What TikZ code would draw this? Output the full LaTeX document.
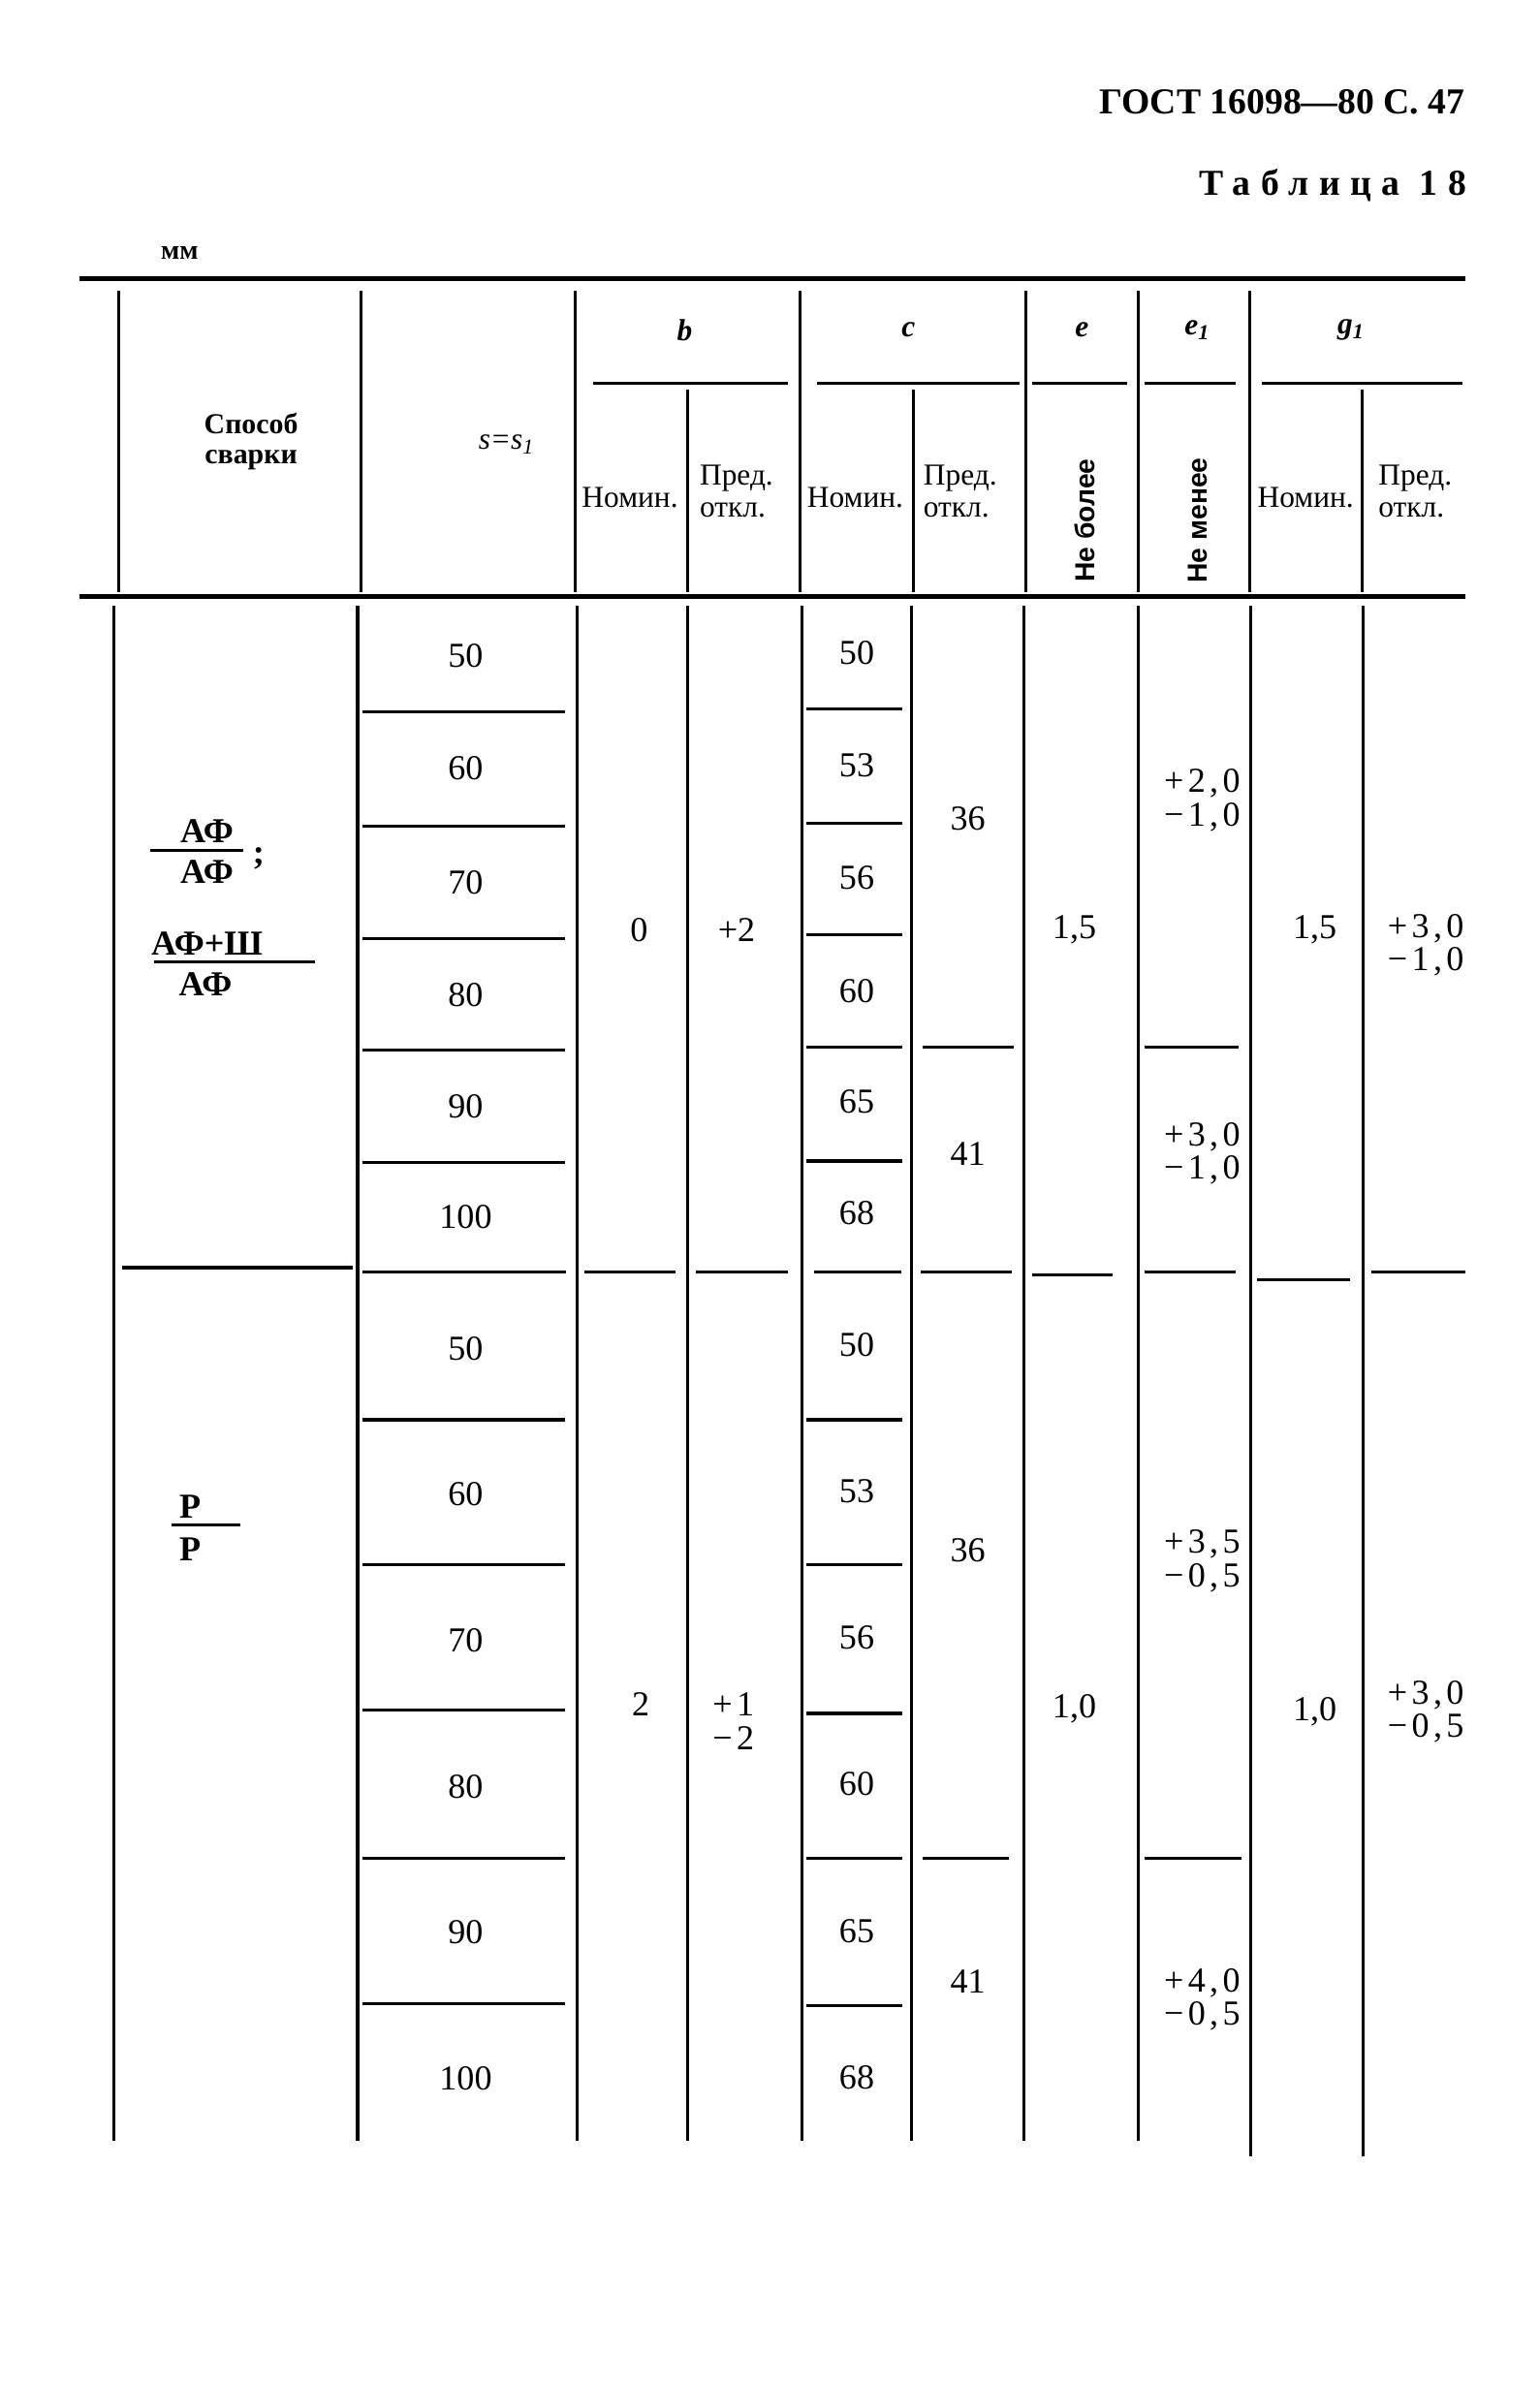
\documentclass[tikz,border=0pt]{standalone}
\usepackage{fontspec}
\setmainfont{Liberation Serif}
\setsansfont{Liberation Sans}
\usetikzlibrary{positioning}

\begin{document}
\begin{tikzpicture}[x=0.5pt, y=-0.5pt]
		% Styles
		\tikzstyle{rule} = [line width=1.6pt]
		\tikzstyle{vline} = [line width=1pt]
		\tikzstyle{sep} = [line width=1pt]
		\tikzstyle{head} = [inner sep=0pt, font=\bfseries\fontsize{12}{14}\selectfont]
		\tikzstyle{small} = [inner sep=0pt, align=left, font=\fontsize{10}{10.5}\selectfont]
		\tikzstyle{var} = [inner sep=0pt, font=\bfseries\itshape\fontsize{10}{12}\selectfont]
		\tikzstyle{num} = [inner sep=0pt, font=\fontsize{11.5}{12}\selectfont]
		\tikzstyle{dev} = [inner sep=0pt, align=right, font=\fontsize{11.5}{11}\selectfont\addfontfeature{LetterSpace=12}]
		\tikzstyle{frac} = [inner sep=0pt, font=\bfseries\fontsize{11.5}{12}\selectfont]
		\tikzstyle{side} = [inner sep=0pt, rotate=90, font=\sffamily\bfseries\fontsize{9}{10}\selectfont]

		\useasboundingbox[fill=white] (0,0) rectangle (1012,1568);

		% Title
		\node [head, anchor=east] (gost) at (963,67) {ГОСТ 16098—80 С. 47};
		\node [head, anchor=east, font=\bfseries\fontsize{12}{14}\selectfont\addfontfeature{LetterSpace=28}] (tabl) at (964,122) {Таблица 18};
		\node [small, font=\bfseries\fontsize{9}{10}\selectfont] (unit) at (118,166) {мм};

		% Header rules
		\draw [rule] (52,183) -- (963,183);
		\draw [rule] (52,392) -- (963,392);
		\foreach \xa/\xb in {390/518, 537/670, 678/741, 752/812, 829/961}
			\draw [sep] (\xa,252) -- (\xb,252);
		\foreach \x in {78, 237, 378, 526, 674, 748, 821}
			\draw [vline] (\x,191) -- (\x,389);
		\foreach \x in {452, 600, 895}
			\draw [vline] (\x,256) -- (\x,389);

		% Header nodes
		\node [small, align=center, font=\bfseries\fontsize{9.5}{10}\selectfont] (method) at (165,290) {Способ\\сварки};
		\node [var, font=\itshape\fontsize{10}{12}\selectfont] (thick) at (333,292) {s=s\textsubscript{1}};
		\node [var] (hb) at (450,217) {b};
		\node [var] (hc) at (597,217) {c};
		\node [var] (he) at (711,217) {e};
		\node [var] (he1) at (787,217) {e\textsubscript{1}};
		\node [var] (hg1) at (888,217) {g\textsubscript{1}};
		\node [small] (bnom) at (414,327) {Номин.};
		\node [small] (bdev) at (484,323) {Пред.\\откл.};
		\node [small] (cnom) at (562,327) {Номин.};
		\node [small] (cdev) at (631,323) {Пред.\\откл.};
		\node [side] (emax) at (713,342) {Не более};
		\node [side] (e1min) at (787,342) {Не менее};
		\node [small] (gnom) at (858,327) {Номин.};
		\node [small] (gdev) at (930,323) {Пред.\\откл.};

		% Body lines
		\foreach \x in {75, 235, 379, 452, 527, 599, 673, 748}
			\draw [vline] (\x,398) -- (\x,1407);
		\foreach \x in {822, 896}
			\draw [vline] (\x,398) -- (\x,1417);
		\foreach \y in {468, 543, 617, 690, 764, 933, 1028, 1124, 1221, 1317}
			\draw [sep] (238,\y) -- (371,\y);
		\foreach \y in {466, 541, 614, 688, 763, 933, 1028, 1126, 1221, 1318}
			\draw [sep] (530,\y) -- (593,\y);
		\draw [sep] (606,688) -- (666,688);
		\draw [sep] (606,1221) -- (663,1221);
		\draw [sep] (752,688) -- (814,688);
		\draw [sep] (752,1221) -- (816,1221);
		% group border
		\foreach \xa/\xb/\y in {80/232/833, 238/372/836, 384/444/836, 457/518/836, 535/592/836,
			605/665/836, 678/731/838, 752/812/836, 826/887/841, 901/963/836}
			\draw [sep] (\xa,\y) -- (\xb,\y);

		% Method nodes
		\node [frac] (af1) at (136,546) {АФ};
		\node [frac] (af2) at (136,573) {АФ};
		\draw [sep] (99,559) -- (160,559);
		\node [frac] (semi) at (170,564) {;};
		\node [frac] (afs) at (136,620) {АФ+Ш};
		\node [frac] (af3) at (135,647) {АФ};
		\draw [sep] (101,632) -- (207,632);
		\node [frac] (r1) at (125,990) {Р};
		\node [frac] (r2) at (125,1018) {Р};
		\draw [sep] (113,1002) -- (158,1002);

		% Thickness and c values
		\foreach \v/\y in {50/431, 60/505, 70/580, 80/654, 90/727, 100/800}
			\node [num] (sa\v) at (306,\y) {\v};
		\foreach \v/\y in {50/886, 60/982, 70/1078, 80/1174, 90/1270, 100/1366}
			\node [num] (sb\v) at (306,\y) {\v};
		\foreach \v/\y in {50/429, 53/503, 56/577, 60/651, 65/724, 68/797}
			\node [num] (ca\v) at (563,\y) {\v};
		\foreach \v/\y in {50/884, 53/980, 56/1076, 60/1172, 65/1269, 68/1365}
			\node [num] (cb\v) at (563,\y) {\v};

		% Group 1
		\node [num] (ba) at (420,611) {0};
		\node [num] (bda) at (484,611) {+2};
		\node [num] (cda1) at (636,538) {36};
		\node [num] (cda2) at (636,758) {41};
		\node [num] (ea) at (706,611) {1,5};
		\node [dev] (e1a1) at (790,526) {+2,0\\−1,0};
		\node [dev] (e1a2) at (790,758) {+3,0\\−1,0};
		\node [num] (ga) at (864,611) {1,5};
		\node [dev] (gda) at (937,621) {+3,0\\−1,0};

		% Group 2
		\node [num] (bb) at (421,1120) {2};
		\node [dev, align=left] (bdb) at (482,1131) {+1\\−2};
		\node [num] (cdb1) at (636,1019) {36};
		\node [num] (cdb2) at (636,1302) {41};
		\node [num] (eb) at (706,1123) {1,0};
		\node [dev] (e1b1) at (790,1026) {+3,5\\−0,5};
		\node [dev] (e1b2) at (790,1314) {+4,0\\−0,5};
		\node [num] (gb) at (864,1125) {1,0};
		\node [dev] (gdb) at (937,1125) {+3,0\\−0,5};
	\end{tikzpicture}
\end{document}
